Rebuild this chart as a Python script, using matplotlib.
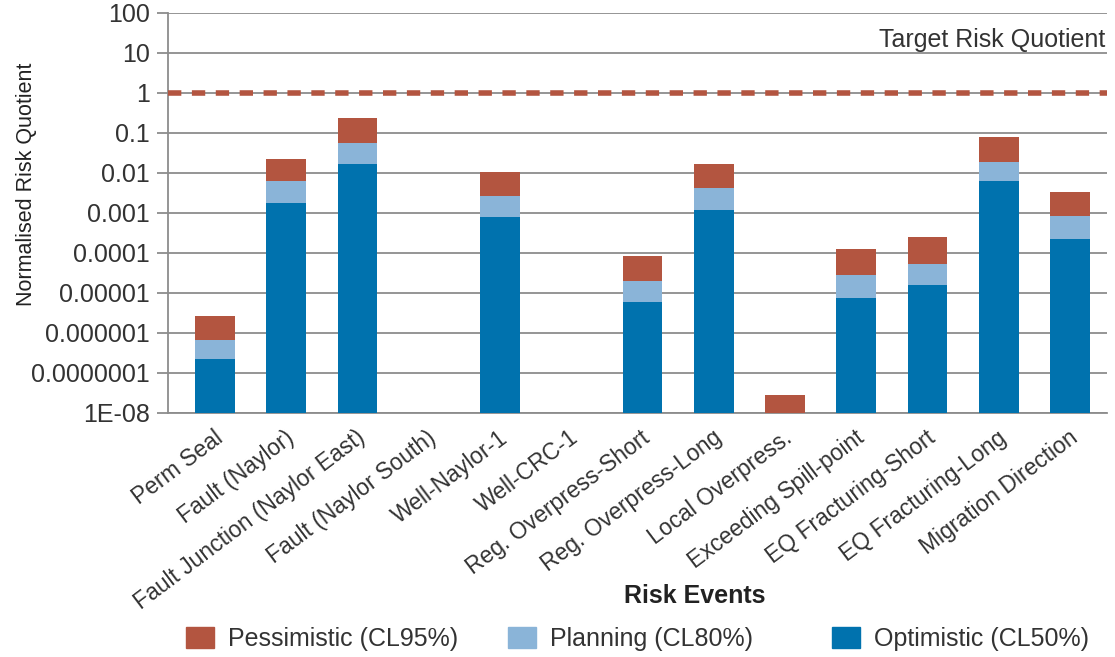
import numpy as np
import matplotlib
matplotlib.use("Agg")
import matplotlib.pyplot as plt
from matplotlib.patches import Patch
from matplotlib.transforms import ScaledTranslation

events = ["Perm Seal", "Fault (Naylor)", "Fault Junction (Naylor East)",
          "Fault (Naylor South)", "Well-Naylor-1", "Well-CRC-1",
          "Reg. Overpress-Short", "Reg. Overpress-Long", "Local Overpress.",
          "Exceeding Spill-point", "EQ Fracturing-Short", "EQ Fracturing-Long",
          "Migration Direction"]

nan = np.nan
pessimistic = [2.7e-6, 0.023, 0.24, nan, 0.0106, nan, 8.2e-5, 0.0164, 2.8e-8,
               1.28e-4, 2.45e-4, 0.079, 0.0034]
planning = [6.5e-7, 0.0063, 0.055, nan, 0.0026, nan, 2.0e-5, 0.0041, nan,
            2.8e-5, 5.3e-5, 0.0184, 8.2e-4]
optimistic = [2.2e-7, 0.0018, 0.0164, nan, 7.8e-4, nan, 6.0e-6, 0.00116, nan,
              7.6e-6, 1.55e-5, 0.0062, 2.3e-4]

target = 1.0
yticks = [1e2, 1e1, 1, 1e-1, 1e-2, 1e-3, 1e-4, 1e-5, 1e-6, 1e-7, 1e-8]
yticklabels = ["100", "10", "1", "0.1", "0.01", "0.001", "0.0001", "0.00001",
               "0.000001", "0.0000001", "1E-08"]

c_pess = "#b35540"
c_plan = "#8ab4d8"
c_opt = "#0072ae"
grid_c = "#8c8c8c"
txt_c = "#333333"

plt.rcParams["font.family"] = ["Liberation Sans", "DejaVu Sans"]

fig = plt.figure(figsize=(11.15, 6.57), dpi=100)
ax = fig.add_axes([168 / 1115, 1 - 413 / 657, (1107 - 168) / 1115, 400 / 657])

x = np.arange(len(events))
w = 0.56
ax.set_yscale("log")
ax.bar(x, pessimistic, w, color=c_pess, zorder=3)
ax.bar(x, planning, w, color=c_plan, zorder=3)
ax.bar(x, optimistic, w, color=c_opt, zorder=3)

ax.axhline(target, color=c_pess, lw=4, dashes=(2.4, 1.9),
           dash_capstyle="butt", zorder=4)
fig.text(1105 / 1115, 1 - 40 / 657, "Target Risk Quotient",
         ha="right", va="center", fontsize=18, color=txt_c)

ax.set_ylim(1e-8, 100)
ax.set_xlim(-0.66, 12.52)
ax.set_yticks(yticks)
ax.set_yticklabels(yticklabels)
ax.minorticks_off()
ax.yaxis.grid(True, color=grid_c, lw=1.3, zorder=1)
ax.tick_params(axis="y", length=8, width=1.3, color=grid_c, pad=5,
               labelsize=18, labelcolor=txt_c)
ax.tick_params(axis="x", length=0, pad=16)
ax.set_xticks(x)
ax.set_xticklabels(events, rotation=37, ha="right", va="center",
                   rotation_mode="anchor", fontsize=16.5, color=txt_c)
shift = ScaledTranslation(0.05, 0, fig.dpi_scale_trans)
for lbl in ax.get_xticklabels():
    lbl.set_transform(lbl.get_transform() + shift)
for s in ["top", "right"]:
    ax.spines[s].set_visible(False)
for s in ["left", "bottom"]:
    ax.spines[s].set_color(grid_c)
    ax.spines[s].set_linewidth(1.3)

fig.text(27 / 1115, 1 - 184 / 657, "Normalised Risk Quotient", rotation=90,
         ha="center", va="center", fontsize=15.5, color="#222222")
fig.text(695 / 1115, 1 - 596 / 657, "Risk Events", ha="center", va="center",
         fontsize=18, fontweight="bold", color="#222222")

# one legend per entry so the columns sit at fixed places
entries = [("Pessimistic (CL95%)", c_pess, 186),
           ("Planning (CL80%)", c_plan, 508),
           ("Optimistic (CL50%)", c_opt, 832)]
for label, col, px in entries:
    fig.legend(handles=[Patch(color=col, label=label)], loc="center left",
               bbox_to_anchor=(px / 1115, 1 - 639 / 657), frameon=False,
               fontsize=18, handlelength=1.12, handleheight=0.88,
               handletextpad=0.56, borderpad=0, borderaxespad=0,
               labelcolor=txt_c)

fig.savefig("out.png", dpi=100)
